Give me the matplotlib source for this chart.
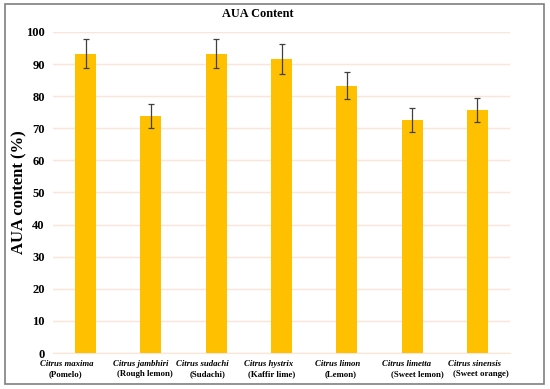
import matplotlib
matplotlib.use("Agg")
import matplotlib.pyplot as plt
from matplotlib.patches import Rectangle

species = ["Citrus maxima", "Citrus jambhiri", "Citrus sudachi", "Citrus hystrix",
           "Citrus limon", "Citrus limetta", "Citrus sinensis"]
common = ["(Pomelo)", "(Rough lemon)", "(Sudachi)", "(Kaffir lime)",
          "(Lemon)", "(Sweet lemon)", "(Sweet orange)"]
values = [93.3, 73.9, 93.3, 91.5, 83.2, 72.6, 75.7]
errors = [4.6, 3.8, 4.6, 4.7, 4.2, 3.7, 3.8]
yticks = [0, 10, 20, 30, 40, 50, 60, 70, 80, 90, 100]

plt.rcParams['font.family'] = ['Liberation Serif', 'DejaVu Serif']

W, H = 550, 389
fig = plt.figure(figsize=(W/100, H/100), dpi=100)
ax = fig.add_axes([53/W, 1 - 353/H, (510-53)/W, (353-32)/H])

x = list(range(len(values)))
ax.bar(x, values, width=0.32, color="#FFC000", zorder=2)
ax.errorbar(x, values, yerr=errors, fmt='none', ecolor="#404040", elinewidth=0.9,
            capsize=2.5, capthick=0.9, zorder=3)

ax.set_xlim(-0.5, len(values) - 0.5)
ax.set_ylim(0, 100)
ax.set_yticks(yticks)
ax.set_yticklabels([str(t) for t in yticks], fontsize=9, fontweight='bold')
ax.yaxis.grid(True, color="#FCE4D6", linewidth=1.0, zorder=0)
ax.set_axisbelow(True)
for s in ['top', 'right', 'left']:
    ax.spines[s].set_visible(False)
ax.spines['bottom'].set_color("#FCE4D6")
ax.tick_params(axis='both', length=0, pad=6)
ax.set_xticks(x)
ax.set_xticklabels([])

# label shifts in pixels relative to bar centre (layout only)
px_per_unit = (510 - 53) / 7
sp_shift = [-19, -10.5, -13.5, -12.5, -9, -5.5, -2.5]
cm_shift = [-20, -6.5, -9, -9.5, -6, 5.5, 3.5]
for i in x:
    ax.text(i + sp_shift[i] / px_per_unit, -11 / 3.21, species[i], ha='center',
            va='center', fontsize=6.3, fontweight='bold', fontstyle='italic')
    ax.text(i + cm_shift[i] / px_per_unit, -21.5 / 3.21, common[i], ha='center',
            va='center', fontsize=6.3, fontweight='bold')

fig.text(19/W, 1 - 192/H, "AUA content (%)", rotation=90, ha='center', va='center',
         fontsize=12, fontweight='bold')
fig.text(258/W, 1 - 14/H, "AUA Content", ha='center', va='center',
         fontsize=8.8, fontweight='bold')

fig.patches.append(Rectangle((5/W, 1 - 384/H), 539/W, 380/H,
                             transform=fig.transFigure, fill=False,
                             edgecolor="#7f7f7f", linewidth=1.2))

fig.savefig("out.png", dpi=100)
